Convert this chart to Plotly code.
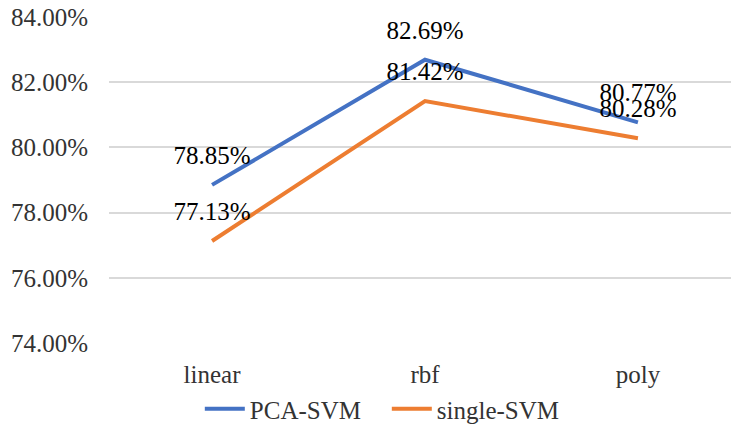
import plotly.graph_objects as go

# ── Data ──────────────────────────────────────────────────────────────────────
kernels = ["linear", "rbf", "poly"]
pca_svm = [78.85, 82.69, 80.77]
single_svm = [77.13, 81.42, 80.28]

BLUE = "#4472C4"
ORANGE = "#ED7D31"
FONT = "Liberation Serif"


def series(name, values, color):
    return go.Scatter(
        x=kernels,
        y=values,
        name=name,
        mode="lines+markers+text",
        line=dict(color=color, width=4),
        marker=dict(size=22, color="rgba(0,0,0,0)"),
        text=[f"{v:.2f}%" for v in values],
        textposition="top center",
        textfont=dict(family=FONT, size=25, color="#000000"),
        cliponaxis=False,
    )


fig = go.Figure([
    series("PCA-SVM", pca_svm, BLUE),
    series("single-SVM", single_svm, ORANGE),
])

fig.update_layout(
    width=732,
    height=436,
    margin=dict(l=109, r=1, t=17, b=93, autoexpand=False),
    paper_bgcolor="white",
    plot_bgcolor="white",
    font=dict(family=FONT, size=25, color="#333333"),
    showlegend=True,
    legend=dict(
        orientation="h",
        x=0.146, xanchor="left",
        y=-0.2025, yanchor="middle",
        font=dict(family=FONT, size=25, color="#333333"),
        entrywidth=132,
        itemwidth=40,
    ),
    xaxis=dict(
        type="category",
        range=[-0.484, 2.437],
        showgrid=False,
        showline=False,
        zeroline=False,
        ticks="",
        ticklabelstandoff=14,
    ),
    yaxis=dict(
        range=[74, 84],
        dtick=2,
        tickformat=".2f",
        ticksuffix="%",
        gridcolor="#d9d9d9",
        gridwidth=1.5,
        zeroline=False,
        showline=False,
        ticks="",
        ticklabelstandoff=20,
    ),
)

# drop the browser's default body margin so the figure sits at the page origin
fig.write_html(
    "out.html",
    config={"displayModeBar": False},
    post_script="document.body.style.margin='0';",
)
